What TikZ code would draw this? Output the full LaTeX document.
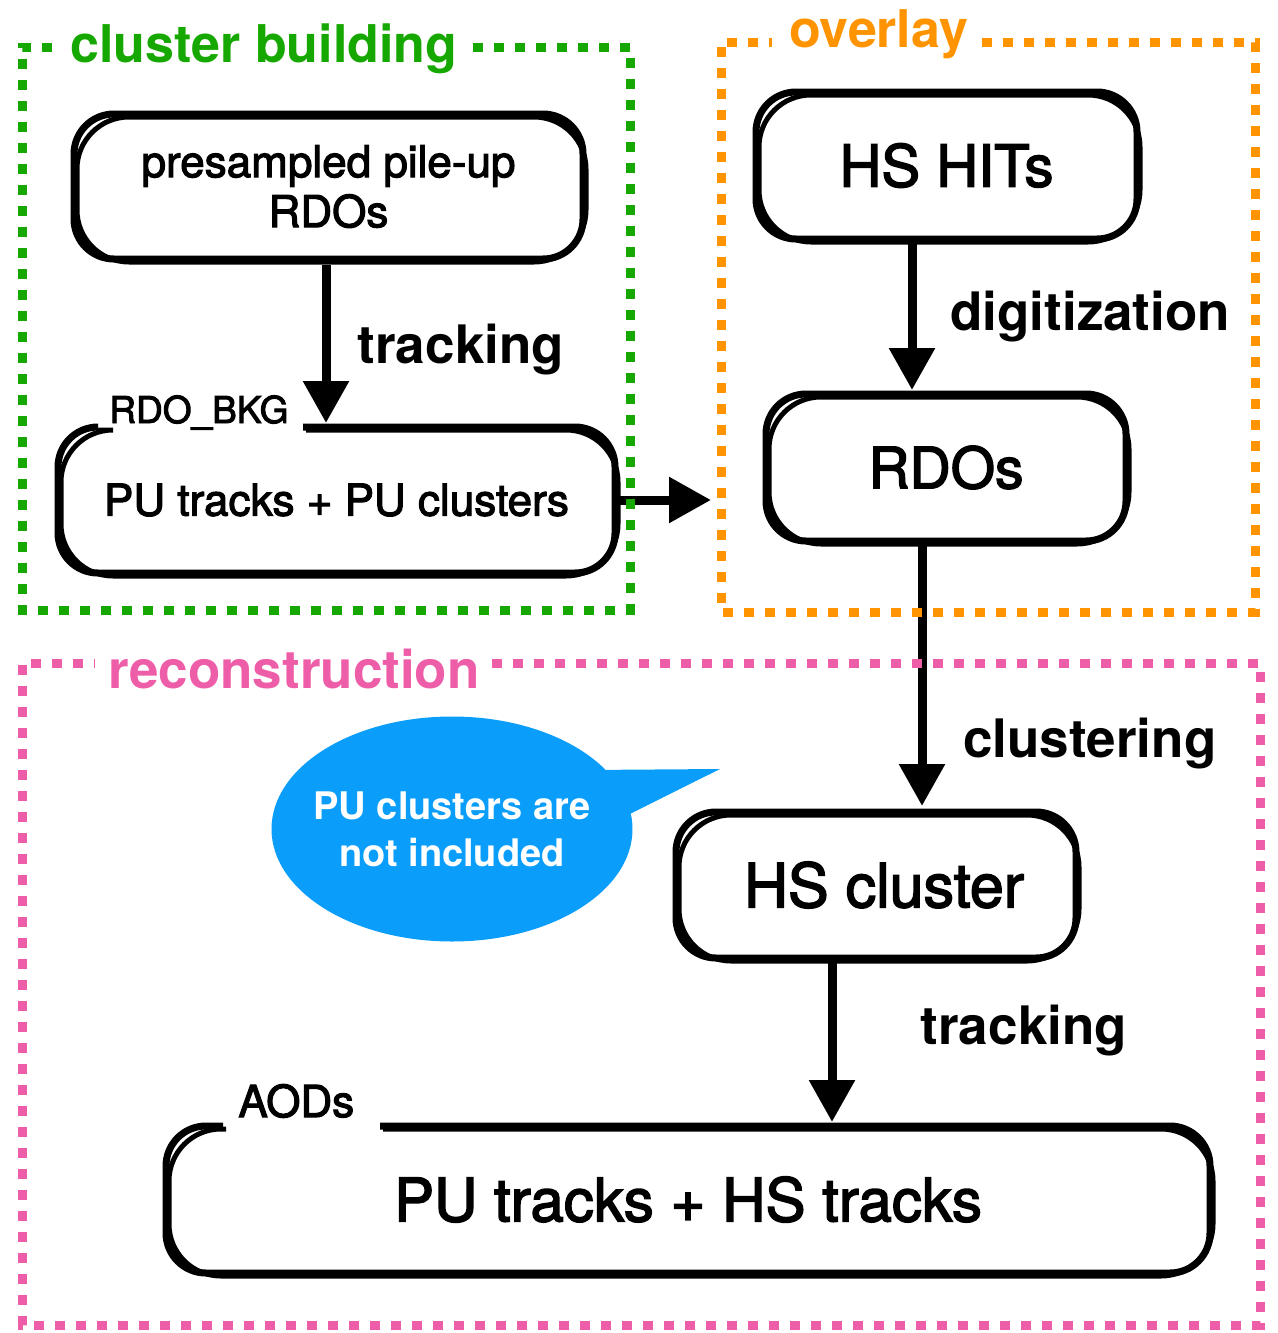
\documentclass[tikz,border=0pt]{standalone}
\usepackage{fontspec}
\setmainfont{TeX Gyre Heros}
\newfontfamily\medfont{TeX Gyre Heros}[FakeBold=2.5]
\usetikzlibrary{arrows.meta,shapes.geometric,calc}

\definecolor{cbgreen}{RGB}{22,168,0}
\definecolor{ovorange}{RGB}{255,147,0}
\definecolor{recopink}{RGB}{238,94,168}
\definecolor{bubbleblue}{RGB}{10,158,250}

\newcommand\fsz[2]{\fontsize{#1pt}{#2pt}\selectfont}

% rounded box outline drawn twice for a heavy, hand-inked look
\newcommand\inkbox[1]{%
  \draw[boxline] (#1.north west) rectangle (#1.south east);
  \draw[boxline2] ($(#1.north west)+(3,3)$) rectangle ($(#1.south east)+(3,3)$);}

% same outline, but open on the top edge between two x positions
\newcommand\inkgapbox[3]{%
  \draw[boxline] (#1.north -| #3) -- (#1.north east) -- (#1.south east)
     -- (#1.south west) -- (#1.north west) -- (#1.north -| #2);
  \draw[boxline2] ($(#1.north -| #3)+(3,3)$) -- ($(#1.north east)+(3,3)$)
     -- ($(#1.south east)+(3,3)$) -- ($(#1.south west)+(3,3)$)
     -- ($(#1.north west)+(3,3)$) -- ($(#1.north -| #2)+(3,3)$);}

\tikzset{
  anchorbox/.style={inner sep=0pt, outer sep=0pt, draw=none},
  box/.style={inner sep=0pt, outer sep=0pt, align=center},
  boxline/.style={line width=3.5pt, rounded corners=20pt},
  boxline2/.style={line width=2.5pt, rounded corners=26pt},
  flow/.style={line width=4.5pt, -{Triangle[length=21pt,width=22pt]}},
  lbl/.style={font=\bfseries\fsz{26.5}{30}, inner sep=0pt, anchor=base west},
  tag/.style={inner sep=0pt, anchor=base west},
  title/.style={font=\bfseries\fsz{26}{30}, inner sep=0pt, anchor=base west},
  frameline/.style={line width=4.5pt, dash pattern=on 5pt off 5.5pt},
}

\begin{document}
\begin{tikzpicture}[x=0.5pt,y=-0.5pt]
\useasboundingbox (0,0) rectangle (1278,1333);

% group frames (outlines drawn at the end)
\node[anchorbox, minimum width=304pt, minimum height=281.5pt] (fg) at (326,328.5) {};
\node[anchorbox, minimum width=267pt, minimum height=285pt] (fo) at (988,327) {};
\node[anchorbox, minimum width=619pt, minimum height=331pt] (fp) at (641,994) {};

% process boxes
\node[box, minimum width=254.5pt, minimum height=72.5pt, font=\medfont\fsz{22}{25}]
  (pre) at (328.5,186.5) {presampled pile-up\\RDOs};
\node[box, minimum width=278.5pt, minimum height=73pt, font=\medfont\fsz{22}{26}]
  (pu) at (336.5,500) {PU tracks + PU clusters};
\node[box, minimum width=190.5pt, minimum height=73.5pt, font=\medfont\fsz{29}{34}]
  (hits) at (946.5,165.5) {HS HITs};
\node[box, minimum width=180pt, minimum height=73.5pt, font=\medfont\fsz{28.5}{34}]
  (rdos) at (946,467.5) {RDOs};
\node[box, minimum width=200pt, minimum height=73pt, font=\medfont\fsz{30.5}{34}]
  (hsc) at (876,885) {\hspace*{8pt}HS cluster};
\node[box, minimum width=522pt, minimum height=73.5pt, font=\medfont\fsz{30}{34}]
  (aod) at (688,1199.5) {PU tracks + HS tracks};

\inkbox{pre}
\inkbox{hits}
\inkbox{rdos}
\inkbox{hsc}

\coordinate (pugl) at (93,0);
\coordinate (pugr) at (303,0);
\inkgapbox{pu}{pugl}{pugr}
\coordinate (aodgl) at (223,0);
\coordinate (aodgr) at (380,0);
\inkgapbox{aod}{aodgl}{aodgr}

\node[tag, font=\medfont\fsz{18.5}{20}] (bkg) at (109,423) {RDO\_BKG};
\node[tag, font=\medfont\fsz{22}{24}] (aodtag) at (238,1117) {AODs};

% flow arrows
\coordinate (a1) at (326,0);
\coordinate (a3) at (912,0);
\coordinate (a4) at (922,0);
\coordinate (a5) at (832,0);
\draw[flow, shorten <=3pt, shorten >=2pt] (pre.south -| a1) -- (pu.north -| a1);
\draw[flow, shorten >=5pt] (pu.east) -- (pu.east -| fo.west);
\draw[flow, shorten >=2pt] (hits.south -| a3) -- (rdos.north -| a3);
\draw[flow, shorten >=3pt] (rdos.south -| a4) -- (hsc.north -| a4);
\draw[flow, shorten >=2pt] (hsc.south -| a5) -- (aod.north -| a5);

\node[lbl] (l1) at (357,363) {tracking};
\node[lbl] (l2) at (950,330) {digitization};
\node[lbl] (l3) at (963,757) {clustering};
\node[lbl] (l4) at (920,1044) {tracking};

% speech bubble: body, tail, then its text on top
\node[ellipse, fill=bubbleblue, inner sep=0pt, minimum width=180.5pt, minimum height=112.5pt]
  (bub) at (452,829) {};
\coordinate (tip) at (720,769);
\fill[bubbleblue] (bub.21) -- (tip) -- (bub.5) -- ($(bub.center)!0.8!(bub.12)$) -- cycle;
\node[text=white, font=\bfseries\fsz{19}{23.5}, align=center, inner sep=0pt]
  (bubtext) at (bub.center) {PU clusters are\\not included};

% group frames and titles
\draw[frameline, cbgreen] (fg.north -| 473,0) -- (fg.north east) -- (fg.south east)
   -- (fg.south west) -- (fg.north west) -- (fg.north -| 53,0);
\node[title, text=cbgreen] (tg) at (70,62) {cluster building};

\draw[frameline, ovorange] (fo.north -| 982,0) -- (fo.north east) -- (fo.south east)
   -- (fo.south west) -- (fo.north west) -- (fo.north -| 772,0);
\node[title, text=ovorange] (to) at (789,47) {overlay};

\draw[frameline, recopink] (fp.north -| 492,0) -- (fp.north east) -- (fp.south east)
   -- (fp.south west) -- (fp.north west) -- (fp.north -| 95,0);
\node[title, text=recopink, font=\bfseries\fsz{26.5}{30}] (tp) at (108,688) {reconstruction};

\end{tikzpicture}
\end{document}
